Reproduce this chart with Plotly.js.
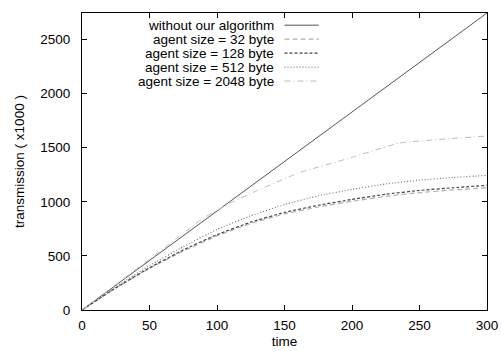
<!DOCTYPE html>
<html>
<head>
<meta charset="utf-8">
<script src="https://cdn.plot.ly/plotly-3.0.1.min.js"></script>
<style>html,body{margin:0;padding:0;background:#fff;}#chart{width:502px;height:351px;}</style>
</head>
<body>
<div id="chart"></div>
<script>
// ---- data ----
const timeLinear = [0, 25, 50, 75, 100, 125, 150, 175, 200, 225, 250, 275, 300];
const withoutAlgorithm = [0, 229, 458, 686, 915, 1144, 1373, 1601, 1830, 2059, 2288, 2516, 2745];

const timeCurve = [0, 25, 50, 75, 100, 125, 150, 175, 200, 225, 250, 275, 300];
const agent32 =  [0, 203, 385, 545, 685, 800, 888, 952, 1005, 1050, 1085, 1110, 1130];
const agent128 = [0, 205, 390, 555, 697, 812, 902, 968, 1022, 1070, 1105, 1130, 1152];
const agent512 = [0, 215, 410, 585, 745, 870, 975, 1055, 1115, 1165, 1200, 1225, 1244];

const time2048 = [0, 50, 90, 110, 130, 160, 200, 235, 300];
const agent2048 = [0, 470, 850, 990, 1105, 1265, 1410, 1543, 1608];

const seriesNames = ["without our algorithm", "agent size = 32 byte", "agent size = 128 byte",
                     "agent size = 512 byte", "agent size = 2048 byte"];

// ---- styles ----
const styles = [
  {color: "#555555", dash: "solid", width: 1},
  {color: "#b0b0b0", dash: "5px,3px", width: 1.2},
  {color: "#444444", dash: "3px,2px", width: 1.2},
  {color: "#777777", dash: "1px,2px", width: 1.2},
  {color: "#bdbdbd", dash: "6px,3px,1px,3px", width: 1}
];
const xs = [timeLinear, timeCurve, timeCurve, timeCurve, time2048];
const ys = [withoutAlgorithm, agent32, agent128, agent512, agent2048];

const traces = seriesNames.map((n, i) => ({
  x: xs[i], y: ys[i], name: n, mode: "lines", type: "scatter",
  line: {color: styles[i].color, dash: styles[i].dash, width: styles[i].width, shape: "spline", smoothing: 0.3},
  showlegend: false, hoverinfo: "skip"
}));
traces[0].line.shape = "linear";

// custom gnuplot-style legend (text right, sample to the right)
const legendY = [0.959, 0.912, 0.865, 0.818, 0.771];
const textFont = {family: "Liberation Sans, Arial, sans-serif", size: 13.5, color: "#000"};
const annotations = seriesNames.map((n, i) => ({
  xref: "paper", yref: "paper", x: 0.478, y: legendY[i],
  xanchor: "right", yanchor: "middle", text: n, showarrow: false,
  font: textFont
}));
const shapes = seriesNames.map((n, i) => ({
  type: "line", xref: "paper", yref: "paper",
  x0: 0.50, x1: 0.585, y0: legendY[i], y1: legendY[i],
  line: {color: styles[i].color, dash: styles[i].dash, width: styles[i].width}
}));

const layout = {
  width: 502, height: 351,
  margin: {l: 82, r: 15, t: 13, b: 41, pad: 0},
  paper_bgcolor: "#fff", plot_bgcolor: "#fff",
  font: textFont,
  showlegend: false,
  xaxis: {
    range: [0, 300], tickvals: [0, 50, 100, 150, 200, 250, 300],
    ticks: "inside", ticklen: 5, tickcolor: "#000", tickwidth: 1,
    showline: true, linecolor: "#000", linewidth: 1, mirror: "ticks",
    showgrid: false, zeroline: false, tickfont: textFont, ticklabelstandoff: 3,
    title: {text: "time", font: textFont, standoff: 4}
  },
  yaxis: {
    range: [0, 2745], tickvals: [0, 500, 1000, 1500, 2000, 2500],
    ticks: "inside", ticklen: 5, tickcolor: "#000", tickwidth: 1,
    showline: true, linecolor: "#000", linewidth: 1, mirror: "ticks",
    showgrid: false, zeroline: false, tickfont: textFont, ticklabelstandoff: 8,
    title: {text: "transmission ( x1000 )", font: textFont, standoff: 12}
  },
  annotations: annotations,
  shapes: shapes
};

Plotly.newPlot("chart", traces, layout, {staticPlot: true, displayModeBar: false});
</script>
</body>
</html>
